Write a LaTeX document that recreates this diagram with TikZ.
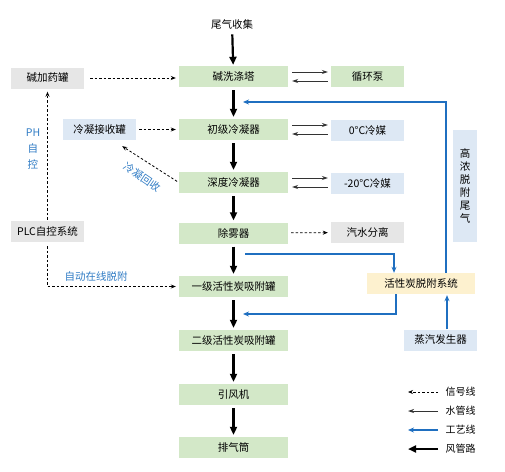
\documentclass[tikz,border=0pt]{standalone}
\usepackage{fontspec}
\setmainfont{Noto Sans CJK SC}
\usetikzlibrary{arrows.meta}

\definecolor{boxgreen}{HTML}{D3E8C8}
\definecolor{boxgrey}{HTML}{E6E6E6}
\definecolor{boxblue}{HTML}{DDE8F4}
\definecolor{boxyellow}{HTML}{FDF1CF}
\definecolor{linkblue}{HTML}{1F6FC0}
\definecolor{textblue}{HTML}{2F7BC4}

\tikzset{
	box/.style={minimum width=109pt, minimum height=21pt, inner sep=0pt, font=\fontsize{10.5}{12}\selectfont},
	greenbox/.style={box, fill=boxgreen},
	greybox/.style={box, fill=boxgrey, minimum width=73pt},
	bluebox/.style={box, fill=boxblue, minimum width=73pt},
	yellowbox/.style={box, fill=boxyellow, minimum width=108pt},
	airline/.style={line width=2.2pt, -{Triangle[length=8pt,width=7pt]}},
	waterline/.style={line width=0.8pt, draw=black!80, -{Stealth[length=6pt,width=4pt]}},
	signalline/.style={line width=0.8pt, dash pattern=on 2.5pt off 2pt, -{Stealth[length=5pt,width=4pt]}},
	processline/.style={line width=1.8pt, draw=linkblue, -{Stealth[length=6pt,width=5pt]}},
	bluetext/.style={text=textblue, font=\fontsize{10.5}{12}\selectfont},
}

\begin{document}
\begin{tikzpicture}[x=1pt, y=-1pt]
	\useasboundingbox (0,0) rectangle (505,471);
	
	%main column
	\node[font=\fontsize{10.5}{12}\selectfont] (exhaust) at (232,24) {尾气收集};
	\node[greenbox] (scrub) at (233.5,76.5) {碱洗涤塔};
	\node[greenbox] (cond1) at (233.5,129.5) {初级冷凝器};
	\node[greenbox] (cond2) at (233.5,182.5) {深度冷凝器};
	\node[greenbox] (demist) at (233.5,233) {除雾器};
	\node[greenbox] (ads1) at (233.5,286.5) {一级活性炭吸附罐};
	\node[greenbox] (ads2) at (233.5,340.5) {二级活性炭吸附罐};
	\node[greenbox] (fan) at (233.5,394.5) {引风机};
	\node[greenbox] (stack) at (233.5,447.5) {排气筒};
	
	%right side
	\node[box, fill=boxgreen, minimum width=73pt] (pump) at (367.5,76.5) {循环泵};
	\node[bluebox] (cold0) at (367.5,130.5) {0°C冷媒};
	\node[bluebox] (cold20) at (367.5,183.5) {-20°C冷媒};
	\node[greybox] (sep) at (367.5,232.5) {汽水分离};
	\node[yellowbox] (desorb) at (421,283.5) {活性炭脱附系统};
	\node[bluebox, minimum width=24pt, minimum height=112pt, align=center,
		font=\fontsize{10.5}{13}\selectfont] (tail) at (465,186) {高\\浓\\脱\\附\\尾\\气};
	\node[bluebox] (steam) at (440.5,340) {蒸汽发生器};
	
	%left side
	\node[greybox] (dosing) at (47.5,78) {碱加药罐};
	\node[bluebox] (recv) at (99.5,129.5) {冷凝接收罐};
	\node[greybox] (plc) at (47.5,231.5) {PLC自控系统};
	\node[bluetext, align=center, font=\fontsize{10.5}{16}\selectfont] (phlabel) at (33,149) {PH\\自\\控};
	\node[bluetext] (autolabel) at (96,276) {自动在线脱附};
	\node[bluetext, rotate=-34] (reclabel) at (142,177) {冷凝回收};
	
	%air path
	\draw[airline, shorten <=2pt, shorten >=1pt] (exhaust) -- (scrub);
	\draw[airline, shorten <=3pt, shorten >=2pt] (scrub) -- (cond1);
	\draw[airline, shorten <=3pt, shorten >=2pt] (cond1) -- (cond2);
	\draw[airline, shorten <=3pt, shorten >=2pt] (cond2) -- (demist);
	\draw[airline, shorten <=3pt, shorten >=2pt] (demist) -- (ads1);
	\draw[airline, shorten <=3pt, shorten >=2pt] (ads1) -- (ads2);
	\draw[airline, shorten <=3pt, shorten >=2pt] (ads2) -- (fan);
	\draw[airline, shorten <=3pt, shorten >=2pt] (fan) -- (stack);
	
	%water lines
	\draw[waterline, shorten <=4pt, shorten >=3pt] ([yshift=4.5pt]scrub.east) -- ([yshift=4.5pt]pump.west);
	\draw[waterline, shorten <=3pt, shorten >=4pt] ([yshift=-4.5pt]pump.west) -- ([yshift=-4.5pt]scrub.east);
	\draw[waterline, shorten <=4pt, shorten >=3pt] ([yshift=4.5pt]cond1.east) -- ([yshift=4.5pt]cond1.east -| cold0.west);
	\draw[waterline, shorten <=3pt, shorten >=4pt] ([yshift=-4.5pt]cond1.east -| cold0.west) -- ([yshift=-4.5pt]cond1.east);
	\draw[waterline, shorten <=4pt, shorten >=3pt] ([yshift=4.5pt]cond2.east) -- ([yshift=4.5pt]cond2.east -| cold20.west);
	\draw[waterline, shorten <=3pt, shorten >=4pt] ([yshift=-4.5pt]cond2.east -| cold20.west) -- ([yshift=-4.5pt]cond2.east);
	
	%signal lines
	\draw[signalline, shorten <=6pt, shorten >=3pt] (dosing.east) -- (dosing.east -| scrub.west);
	\draw[signalline, shorten <=3pt, shorten >=3pt] (recv) -- (cond1);
	\draw[signalline, shorten <=3pt, shorten >=3pt] (demist) -- (sep);
	\draw[signalline, shorten <=2pt] (cond2.west) -- ([xshift=-14pt,yshift=-6pt]recv.south east);
	\draw[signalline, shorten <=1pt, shorten >=3pt] (plc) -- (dosing);
	\draw[signalline, shorten <=4pt, shorten >=3pt] (plc.south) |- (ads1.west);
	
	%process lines
	\coordinate (in1) at (243,102);
	\coordinate (out1) at (245,254);
	\coordinate (in2) at (243,314);
	\draw[processline] ([xshift=25pt]desorb.north) |- (in1);
	\draw[processline] (out1) -| ([xshift=-27pt]desorb.north);
	\draw[processline] ([xshift=-25pt]desorb.south) |- (in2);
	\draw[processline, shorten >=1pt] ([xshift=6.5pt]steam.north) -- ([xshift=6.5pt]steam.north |- desorb.south);
	
	%legend
	\node[anchor=west, font=\fontsize{10}{12}\selectfont] (leg1) at (442,392) {信号线};
	\node[anchor=west, font=\fontsize{10}{12}\selectfont] (leg2) at (442,411) {水管线};
	\node[anchor=west, font=\fontsize{10}{12}\selectfont] (leg3) at (442,430) {工艺线};
	\node[anchor=west, font=\fontsize{10}{12}\selectfont] (leg4) at (442,449) {风管路};
	\draw[signalline] ([xshift=-4pt]leg1.west) -- ++(-30,0);
	\draw[waterline] ([xshift=-4pt]leg2.west) -- ++(-30,0);
	\draw[processline] ([xshift=-4pt]leg3.west) -- ++(-30,0);
	\draw[airline] ([xshift=-4pt]leg4.west) -- ++(-30,0);
\end{tikzpicture}
\end{document}
